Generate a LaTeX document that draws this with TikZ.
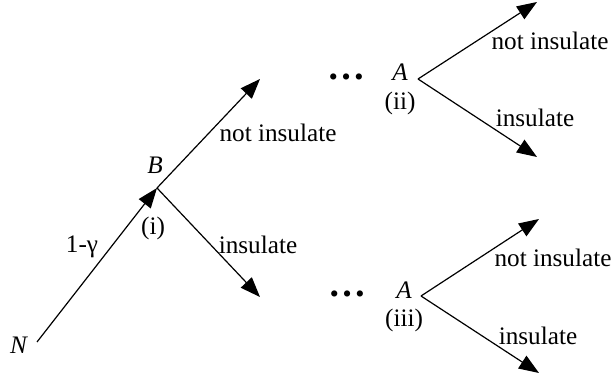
\documentclass[tikz,border=0pt]{standalone}
\usepackage{fontspec}
\setmainfont{Liberation Serif}
\usepackage{tikz}
\usetikzlibrary{arrows.meta}

\begin{document}
\begin{tikzpicture}[x=25pt,y=25pt,
    branch/.style={-{Triangle[length=10pt,width=7.5pt]},line width=0.6pt},
    lbl/.style={inner sep=0pt,font=\fontsize{12.6}{15}\selectfont},
    dots/.style={inner sep=0pt,anchor=south,font=\fontsize{19}{20}\selectfont\bfseries}]

\useasboundingbox (0,0) rectangle (12.28,7.58);

\coordinate (n)  at (0.74,0.74);
\coordinate (b)  at (3.14,3.82);
\coordinate (bu) at (5.20,6.00);
\coordinate (bd) at (5.20,1.64);
\coordinate (a2) at (8.36,6.00);
\coordinate (a2u) at (10.74,7.54);
\coordinate (a2d) at (10.74,4.44);
\coordinate (a3) at (8.42,1.66);
\coordinate (a3u) at (10.78,3.20);
\coordinate (a3d) at (10.78,0.12);

\draw[branch] (n) -- (b);
\draw[branch] (b) -- (bu);
\draw[branch] (b) -- (bd);
\draw[branch] (a2) -- (a2u);
\draw[branch] (a2) -- (a2d);
\draw[branch] (a3) -- (a3u);
\draw[branch] (a3) -- (a3d);

\node[lbl] (nlab) at (0.38,0.68) {\textit{N}};
\node[lbl] (blab) at (3.10,4.28) {\textit{B}};
\node[lbl] (bnum) at (3.06,3.02) {(i)};
\node[lbl] (gam)  at (1.64,2.64) {1-γ};
\node[lbl] (bnot) at (5.56,4.92) {not insulate};
\node[lbl] (bins) at (5.16,2.68) {insulate};

\node[dots] (dots2) at (6.92,5.98) {…};
\node[lbl] (a2lab) at (8.00,6.14) {\textit{A}};
\node[lbl] (a2num) at (8.00,5.52) {(ii)};
\node[lbl] (a2not) at (11.00,6.76) {not insulate};
\node[lbl] (a2ins) at (10.70,5.22) {insulate};

\node[dots] (dots3) at (6.94,1.64) {…};
\node[lbl] (a3lab) at (8.08,1.78) {\textit{A}};
\node[lbl] (a3num) at (8.08,1.18) {(iii)};
\node[lbl] (a3not) at (11.06,2.42) {not insulate};
\node[lbl] (a3ins) at (10.76,0.86) {insulate};

\end{tikzpicture}
\end{document}
